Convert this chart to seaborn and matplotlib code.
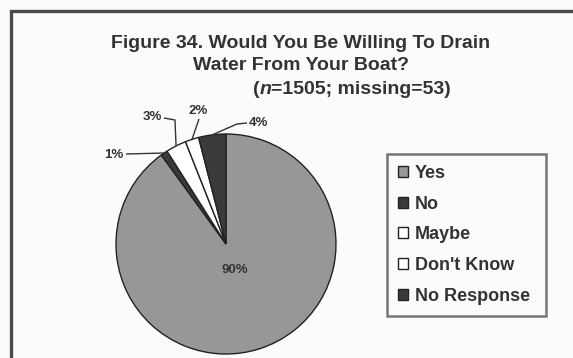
import matplotlib
matplotlib.use("Agg")
import matplotlib.pyplot as plt
import numpy as np
import seaborn as sns
from matplotlib.patches import Rectangle

# Survey responses (percent of respondents)
categories = ["Yes", "No", "Maybe", "Don't Know", "No Response"]
percents = [90, 1, 3, 2, 4]
slice_colors = ["#979797", "#3a3a3a", "#ffffff", "#ffffff", "#3a3a3a"]

title_lines = ["Figure 34. Would You Be Willing To Drain", "Water From Your Boat?"]
sample_note = ("n", "=1505; missing=53)")

sns.set_theme(style="white")
plt.rcParams["font.family"] = ["Liberation Sans", "DejaVu Sans"]

W, H = 573, 358
fig = plt.figure(figsize=(W / 100, H / 100), dpi=100)
fig.patch.set_facecolor("#fbfbfb")

# axes in pixel-like units (y measured upward)
ax = fig.add_axes([0, 0, 1, 1])
ax.set_facecolor("#fbfbfb")

cx, cy, r = 226, H - 244, 110
wedges, _ = ax.pie(percents, colors=slice_colors, startangle=90, counterclock=False,
                   center=(cx, cy), radius=r,
                   wedgeprops=dict(edgecolor="#222222", linewidth=1.0))
ax.set_xlim(0, W)
ax.set_ylim(0, H)
ax.set_aspect("equal", adjustable="box")
ax.axis("off")

txt_color = "#333333"

# value label for the large slice, inside the pie
w0 = wedges[0]
mid0 = np.deg2rad((w0.theta1 + w0.theta2) / 2)
ax.text(cx + 0.25 * r * np.cos(mid0), cy + 0.25 * r * np.sin(mid0), f"{percents[0]}%",
        ha="center", va="center", fontsize=9.5, fontweight="bold", color=txt_color)

# small-slice labels with leader lines: (label anchor, line start, elbow point or None)
label_pos = {
    1: ((114, H - 155), (126, H - 154), None),
    2: ((152, H - 117), (164, H - 118), (175, H - 120)),
    3: ((198, H - 111), (199, H - 119), None),
    4: ((258, H - 123), (247, H - 123), (237, H - 124)),
}
for i, (tpos, lstart, elbow) in label_pos.items():
    w = wedges[i]
    mid = np.deg2rad((w.theta1 + w.theta2) / 2)
    ex, ey = cx + r * np.cos(mid), cy + r * np.sin(mid)
    pts = [lstart] + ([elbow] if elbow else []) + [(ex, ey)]
    xs, ys = zip(*pts)
    ax.plot(xs, ys, color="#333333", lw=1.0, solid_capstyle="butt")
    ax.text(tpos[0], tpos[1], f"{percents[i]}%", ha="center", va="center",
            fontsize=9.5, fontweight="bold", color=txt_color)

# title
title_size = 14
fig.text(301 / W, 1 - 43 / H, title_lines[0], ha="center", va="center",
         fontsize=title_size, fontweight="bold", color=txt_color)
fig.text(301 / W, 1 - 66 / H, title_lines[1], ha="center", va="center",
         fontsize=title_size, fontweight="bold", color=txt_color)

# third title line: "(n=1505; missing=53)" with italic n, centred as a group
y3 = 1 - 90 / H
parts = [("(", "normal"), (sample_note[0], "italic"), (sample_note[1], "normal")]
texts = [fig.text(0, y3, s, ha="left", va="center", fontsize=title_size,
                  fontweight="bold", fontstyle=st, color=txt_color) for s, st in parts]
fig.canvas.draw()
widths = [t.get_window_extent().width for t in texts]
x = 352 - sum(widths) / 2
for t, wd in zip(texts, widths):
    t.set_x(x / W)
    x += wd

# legend
leg = fig.legend(wedges, categories, loc="upper left",
                 bbox_to_anchor=(387 / W, 1 - 155 / H, (546 - 387) / W, 1 / H),
                 mode="expand", frameon=True, fancybox=False,
                 prop=dict(family="Liberation Sans", weight="bold", size=13),
                 labelspacing=0.76, handlelength=0.55, handleheight=0.55,
                 handletextpad=0.4, borderpad=0.6, borderaxespad=0)
leg.get_frame().set_edgecolor("#555555")
leg.get_frame().set_linewidth(1.8)
leg.get_frame().set_facecolor("#fbfbfb")
for t in leg.get_texts():
    t.set_color(txt_color)

# outer frame of the figure panel
fig.add_artist(Rectangle((11 / W, -0.05), 1.0, 1 - 11 / H + 0.05, transform=fig.transFigure,
                         fill=False, edgecolor="#4a4a4a", linewidth=2.4))

fig.savefig("out.png", dpi=100, facecolor=fig.get_facecolor())
